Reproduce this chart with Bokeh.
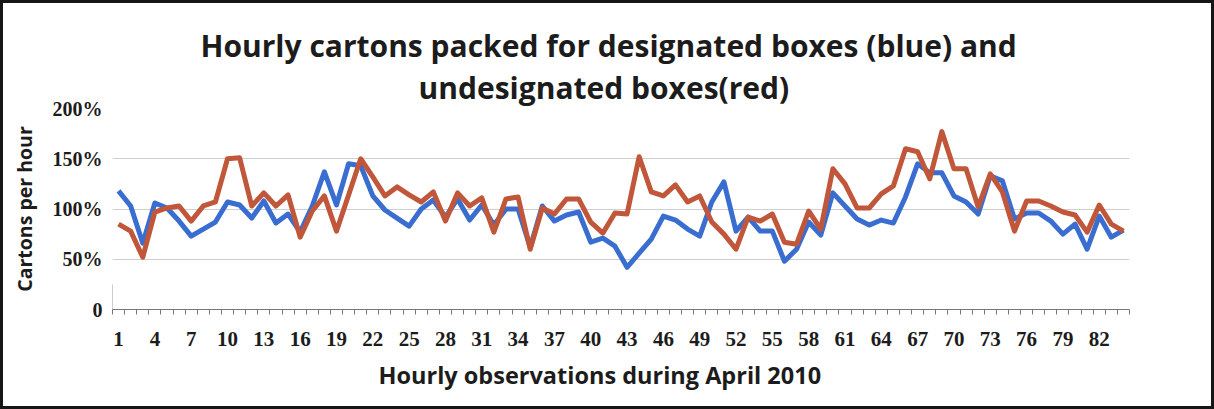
from bokeh.plotting import figure
from bokeh.models import FixedTicker, Title, Range1d
from bokeh.layouts import column
from bokeh.embed import file_html
from bokeh.resources import INLINE

# Hourly cartons packed, as a percentage of the standard rate
designated = [118, 103, 66, 106, 101, 88, 73, 80, 87, 107,
              104, 91, 108, 86, 95, 77, 103, 137, 104, 145,
              143, 113, 99, 91, 83, 100, 109, 92, 110, 89,
              104, 84, 100, 100, 62, 103, 88, 94, 97, 67,
              71, 63, 42, 56, 70, 93, 89, 80, 73, 107,
              127, 78, 92, 78, 78, 48, 60, 87, 74, 116,
              103, 90, 84, 89, 86, 112, 145, 136, 136, 113,
              107, 95, 133, 128, 90, 96, 96, 88, 75, 85,
              60, 93, 72, 79]
undesignated = [85, 78, 52, 97, 101, 103, 88, 103, 107, 150,
                151, 103, 116, 103, 114, 72, 98, 113, 78, 114,
                150, 132, 113, 122, 114, 107, 117, 88, 116, 103,
                111, 77, 110, 112, 60, 101, 95, 110, 110, 87,
                76, 96, 95, 152, 117, 113, 124, 107, 113, 87,
                75, 60, 92, 88, 95, 67, 65, 98, 80, 140,
                125, 101, 101, 115, 123, 160, 157, 130, 177, 140,
                140, 102, 135, 117, 78, 108, 108, 103, 97, 94,
                77, 104, 85, 78]
hours = list(range(1, len(designated) + 1))

y_ticks = [0, 50, 100, 150, 200]
y_tick_labels = {0: "0", 50: "50%", 100: "100%", 150: "150%", 200: "200%"}
x_label_every = 3

BLUE = "#3a6dd0"
RED = "#c0573a"
INK = "#1c1c1c"
SANS = "Open Sans"
SERIF = "Liberation Serif"

n = len(hours)
p = figure(
    frame_width=1017, frame_height=201,
    min_border_left=109, min_border_right=82,
    min_border_top=105, min_border_bottom=97,
    x_range=Range1d(0.5, n + 0.5), y_range=Range1d(0, 200),
    output_backend="svg", toolbar_location=None,
    background_fill_color="white", border_fill_color="white",
    outline_line_color=None,
)

# y axis: percentage labels only, no ticks or line
ya = p.yaxis[0]
ya.ticker = FixedTicker(ticks=y_ticks)
ya.major_label_overrides = y_tick_labels
ya.major_tick_out = 0
ya.major_tick_in = 0
ya.minor_tick_out = 0
ya.minor_tick_in = 0
ya.axis_line_color = None
ya.major_label_standoff = 10
ya.major_label_text_font = SERIF
ya.major_label_text_font_style = "bold"
ya.major_label_text_font_size = "20px"
ya.major_label_text_color = INK
ya.axis_label = "Cartons per hour"
ya.axis_label_text_font = SANS
ya.axis_label_text_font_style = "bold"
ya.axis_label_text_font_size = "19.5px"
ya.axis_label_text_color = INK
ya.axis_label_standoff = 12

# x axis: a label every third hour, small ticks between hours
xa = p.xaxis[0]
xa.ticker = FixedTicker(ticks=hours[::x_label_every],
                        minor_ticks=[h - 0.5 for h in hours] + [n + 0.5])
xa.major_tick_out = 0
xa.major_tick_in = 0
xa.minor_tick_out = 5
xa.minor_tick_in = 0
xa.minor_tick_line_color = "#777777"
xa.axis_line_color = "#777777"
xa.major_label_standoff = 17
xa.major_label_text_font = SERIF
xa.major_label_text_font_style = "bold"
xa.major_label_text_font_size = "21px"
xa.major_label_text_color = INK

p.xgrid.grid_line_color = None
p.ygrid.ticker = FixedTicker(ticks=y_ticks[1:])
p.ygrid.grid_line_color = "#cfcfcf"
p.ygrid.grid_line_width = 1

# short stub of the value axis near zero
p.segment(x0=[0.5], y0=[0], x1=[0.5], y1=[25], line_color="#999999", line_width=1)

p.line(hours, designated, line_color=BLUE, line_width=5, line_join="round")
p.line(hours, undesignated, line_color=RED, line_width=5, line_join="round")

p.add_layout(Title(text="Hourly observations during April 2010", align="left",
                   offset=266, standoff=16, text_font=SANS, text_font_style="bold",
                   text_font_size="23.5px", text_color=INK), "below")

p.add_layout(Title(text="undesignated boxes(red)", align="left", offset=306,
                   standoff=2, text_font=SANS, text_font_style="bold",
                   text_font_size="30px", text_color=INK), "above")
p.add_layout(Title(text="Hourly cartons packed for designated boxes (blue) and",
                   align="left", offset=88, standoff=-4, text_font=SANS,
                   text_font_style="bold", text_font_size="30px",
                   text_color=INK), "above")

page = column(p, styles={"border": "3px solid #161616"})

open("out.html", "w").write(file_html(page, INLINE))
